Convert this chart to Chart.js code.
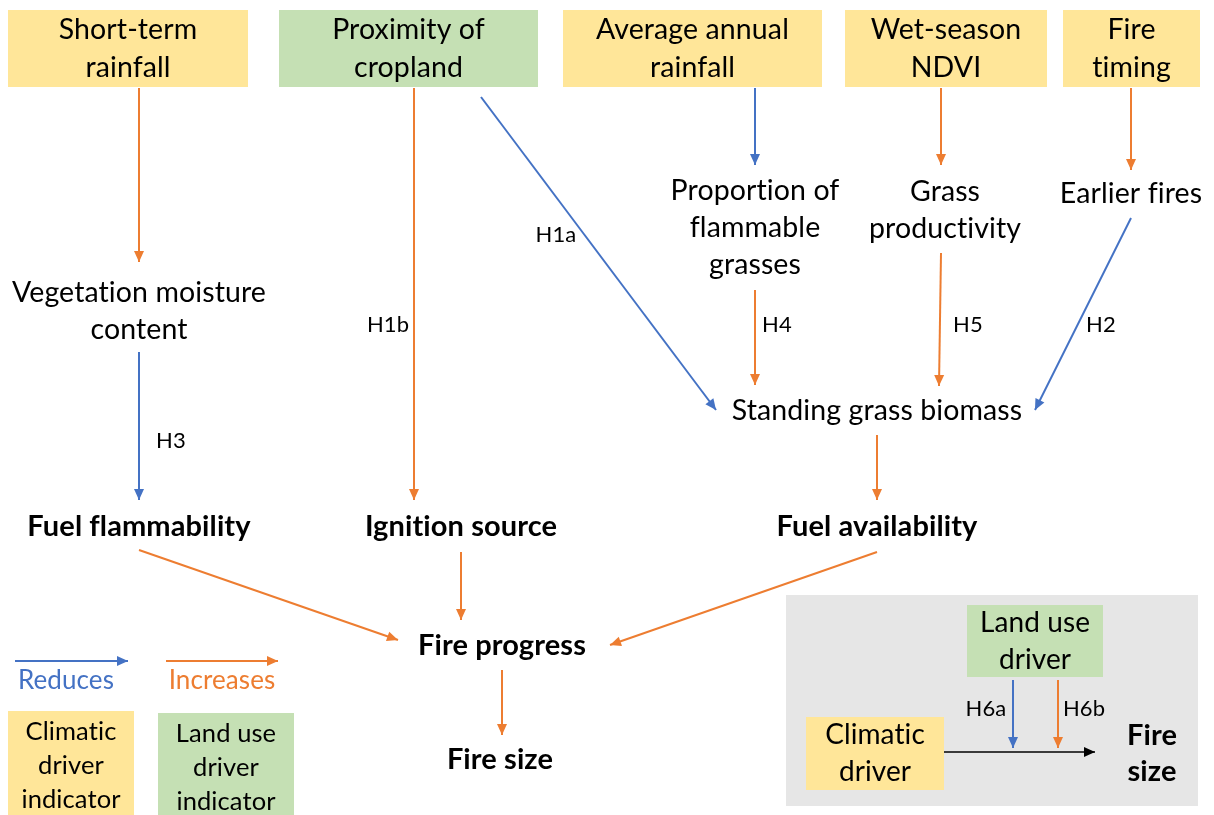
<!DOCTYPE html>
<html>
<head>
<meta charset="utf-8">
<script src="https://cdn.jsdelivr.net/npm/chart.js@4"></script>
<style>
  html, body { margin: 0; padding: 0; background: #fff; }
  #wrap { width: 1214px; height: 815px; }
</style>
</head>
<body>
<div id="wrap"><canvas id="diagram" width="1214" height="815"></canvas></div>
<script>
// diagram space: x 0..1214, y 0..815 (top down)
const driverBoxes = [
    { lines: ['Short-term', 'rainfall'], x0: 8, x1: 248, y0: 10, y1: 87, kind: 'climate' },
    { lines: ['Proximity of', 'cropland'], x0: 279, x1: 538, y0: 10, y1: 87, kind: 'land' },
    { lines: ['Average annual', 'rainfall'], x0: 563, x1: 822, y0: 10, y1: 87, kind: 'climate' },
    { lines: ['Wet-season', 'NDVI'], x0: 845, x1: 1047, y0: 10, y1: 87, kind: 'climate' },
    { lines: ['Fire', 'timing'], x0: 1063, x1: 1200, y0: 10, y1: 87, kind: 'climate' }
];
const legendBoxes = [
    { lines: ['Climatic', 'driver', 'indicator'], x0: 8, x1: 134, y0: 711, y1: 821, kind: 'climate' },
    { lines: ['Land use', 'driver', 'indicator'], x0: 158, x1: 294, y0: 713, y1: 823, kind: 'land' }
];
const insetPanel = { x0: 786, x1: 1198, y0: 595, y1: 806 };
const insetBoxes = [
    { lines: ['Land use', 'driver'], x0: 967, x1: 1103, y0: 605, y1: 677, kind: 'land' },
    { lines: ['Climatic', 'driver'], x0: 806, x1: 944, y0: 717, y1: 790, kind: 'climate' }
];

const plainLabels = [
    { lines: ['Vegetation moisture', 'content'], x: 139, y: 311 },
    { lines: ['Proportion of', 'flammable', 'grasses'], x: 755, y: 228 },
    { lines: ['Grass', 'productivity'], x: 945, y: 210 },
    { lines: ['Earlier fires'], x: 1131, y: 194 },
    { lines: ['Standing grass biomass'], x: 877, y: 411 }
];
const boldLabels = [
    { lines: ['Fuel flammability'], x: 139, y: 527 },
    { lines: ['Ignition source'], x: 461, y: 527 },
    { lines: ['Fuel availability'], x: 877, y: 527 },
    { lines: ['Fire progress'], x: 502, y: 646 },
    { lines: ['Fire size'], x: 500, y: 760 },
    { lines: ['Fire', 'size'], x: 1152, y: 754 }
];
const hypothesisLabels = [
    { text: 'H1a', x: 556, y: 235 },
    { text: 'H1b', x: 388, y: 325 },
    { text: 'H4', x: 777, y: 325 },
    { text: 'H5', x: 968, y: 325 },
    { text: 'H2', x: 1101, y: 325 },
    { text: 'H3', x: 171, y: 441 },
    { text: 'H6a', x: 986, y: 709 },
    { text: 'H6b', x: 1084, y: 709 }
];
const legendWords = [
    { text: 'Reduces', x: 66, y: 681, kind: 'reduce' },
    { text: 'Increases', x: 222, y: 681, kind: 'increase' }
];

// arrows: [fromX, fromY, toX, toY]
const increaseArrows = [
    [139, 88, 139, 262],
    [414, 88, 414, 500],
    [941, 88, 941, 165],
    [1131, 88, 1131, 170],
    [755, 290, 755, 385],
    [941, 253, 939, 386],
    [877, 435, 877, 500],
    [139, 550, 398, 640],
    [461, 552, 461, 620],
    [877, 552, 610, 645],
    [502, 670, 502, 735],
    [166, 661, 278, 661],
    [1058, 680, 1058, 748]
];
const reduceArrows = [
    [481, 97, 716, 410],
    [755, 88, 755, 165],
    [139, 352, 139, 500],
    [1131, 218, 1035, 410],
    [15, 661, 128, 661],
    [1013, 680, 1013, 748]
];
const neutralArrows = [
    [944, 752, 1095, 752]
];

const COLORS = {
    climate: '#FFE699',
    land: '#C5E0B4',
    increase: '#ED7D31',
    reduce: '#4472C4',
    neutral: '#000000',
    panel: '#E6E6E6'
};
const FONT = 'Lato, "Open Sans", sans-serif';

function arrowSet(list, color, width) {
    return list.map(a => ({
        type: 'line',
        data: [{ x: a[0], y: a[1] }, { x: a[2], y: a[3] }],
        borderColor: color,
        borderWidth: width,
        pointRadius: 0,
        fill: false,
        tension: 0,
        arrowHead: true
    }));
}

const datasets = [
    ...arrowSet(increaseArrows, COLORS.increase, 2),
    ...arrowSet(reduceArrows, COLORS.reduce, 2),
    ...arrowSet(neutralArrows, COLORS.neutral, 1.5)
];

function rect(chart, b, color) {
    const { x, y } = chart.scales;
    const px0 = x.getPixelForValue(b.x0), px1 = x.getPixelForValue(b.x1);
    const py0 = y.getPixelForValue(b.y0), py1 = y.getPixelForValue(b.y1);
    chart.ctx.fillStyle = color;
    chart.ctx.fillRect(px0, py0, px1 - px0, py1 - py0);
}

function textBlock(chart, lines, cx, cy, lh, font, color) {
    const { x, y } = chart.scales;
    const ctx = chart.ctx;
    ctx.font = font;
    ctx.fillStyle = color;
    ctx.textAlign = 'center';
    ctx.textBaseline = 'middle';
    ctx.letterSpacing = '0.1px'; // keeps Lato from joining "ti"
    const n = lines.length;
    lines.forEach((t, i) => {
        ctx.fillText(t, x.getPixelForValue(cx), y.getPixelForValue(cy + (i - (n - 1) / 2) * lh));
    });
}

const diagramPlugin = {
    id: 'diagram',
    beforeDatasetsDraw(chart) {
        const ctx = chart.ctx;
        ctx.save();
        rect(chart, insetPanel, COLORS.panel);
        [...driverBoxes, ...legendBoxes, ...insetBoxes].forEach(b => rect(chart, b, COLORS[b.kind]));
        ctx.restore();
    },
    afterDatasetsDraw(chart) {
        const ctx = chart.ctx;
        ctx.save();
        // arrow heads
        chart.data.datasets.forEach((ds, i) => {
            if (!ds.arrowHead) return;
            const pts = chart.getDatasetMeta(i).data;
            const p0 = pts[0], p1 = pts[1];
            const ang = Math.atan2(p1.y - p0.y, p1.x - p0.x);
            const len = 11, half = 5;
            ctx.fillStyle = ds.borderColor;
            ctx.beginPath();
            ctx.moveTo(p1.x, p1.y);
            ctx.lineTo(p1.x - len * Math.cos(ang) + half * Math.sin(ang), p1.y - len * Math.sin(ang) - half * Math.cos(ang));
            ctx.lineTo(p1.x - len * Math.cos(ang) - half * Math.sin(ang), p1.y - len * Math.sin(ang) + half * Math.cos(ang));
            ctx.closePath();
            ctx.fill();
        });

        driverBoxes.forEach(b => textBlock(chart, b.lines, (b.x0 + b.x1) / 2, (b.y0 + b.y1) / 2, 38, '28.5px ' + FONT, '#000'));
        legendBoxes.forEach(b => textBlock(chart, b.lines, (b.x0 + b.x1) / 2, (b.y0 + b.y1) / 2, 34, '25.5px ' + FONT, '#000'));
        insetBoxes.forEach(b => textBlock(chart, b.lines, (b.x0 + b.x1) / 2, (b.y0 + b.y1) / 2, 37, '28px ' + FONT, '#000'));
        plainLabels.forEach(l => textBlock(chart, l.lines, l.x, l.y, 37, '28.5px ' + FONT, '#000'));
        boldLabels.forEach(l => textBlock(chart, l.lines, l.x, l.y, 36, 'bold 29px ' + FONT, '#000'));
        hypothesisLabels.forEach(l => textBlock(chart, [l.text], l.x, l.y, 0, '22px ' + FONT, '#000'));
        legendWords.forEach(l => textBlock(chart, [l.text], l.x, l.y, 0, '26px ' + FONT, COLORS[l.kind]));
        ctx.restore();
    }
};

new Chart(document.getElementById('diagram'), {
    type: 'line',
    data: { datasets: datasets },
    options: {
        responsive: false,
        animation: false,
        events: [],
        layout: { padding: 0 },
        plugins: { legend: { display: false }, tooltip: { enabled: false } },
        scales: {
            x: { type: 'linear', min: 0, max: 1214, display: false },
            y: { type: 'linear', min: 0, max: 815, reverse: true, display: false }
        }
    },
    plugins: [diagramPlugin]
});
</script>
</body>
</html>
